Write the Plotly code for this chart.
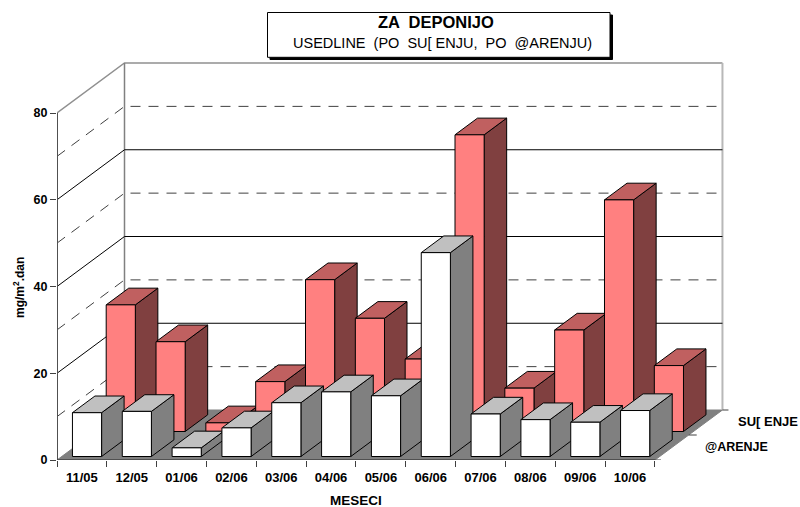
import plotly.graph_objects as go

months = ["11/05","12/05","01/06","02/06","03/06","04/06","05/06","06/06","07/06","08/06","09/06","10/06"]
suncanje = [29.2,20.7,2.0,11.5,35.0,26.1,16.7,68.4,10.0,23.4,53.4,15.2]
zarenje = [10.1,10.4,2.0,6.6,12.4,14.9,14.0,47.0,9.8,8.5,7.9,10.6]
y_ticks = [0,20,40,60,80]
series_labels = ["SU[ ENJE","@ARENJE"]

# pixel geometry of the plot frame
W,H = 800,507
L,B0 = 57,460
CW = 49.83       # px per category
PY = 4.3375      # px per unit
DX,DY = 33.75,25 # px per depth row
R = 755
T = 61
XMAX = (R-L)/CW
YMAX = (B0-T)/PY
dx = DX/CW; dy = DY/PY

def pr(c,v,z):
    return c+z*dx, v+z*dy

def poly(pts):
    xs,ys=[],[]
    for c,v,z in pts:
        a,b=pr(c,v,z); xs.append(a); ys.append(b)
    xs.append(xs[0]); ys.append(ys[0])
    return xs,ys

def add_faces(fig,vals,z0,colors,m=0.215,w=0.585,d=0.667):
    fx,fy,tx,ty,sx,sy=[],[],[],[],[],[]
    for i,v in enumerate(vals):
        c0=i+m; c1=c0+w; z1=z0+d
        a,b=poly([(c0,0,z0),(c1,0,z0),(c1,v,z0),(c0,v,z0)]); fx+=a+[None]; fy+=b+[None]
        a,b=poly([(c0,v,z0),(c1,v,z0),(c1,v,z1),(c0,v,z1)]); tx+=a+[None]; ty+=b+[None]
        a,b=poly([(c1,0,z0),(c1,0,z1),(c1,v,z1),(c1,v,z0)]); sx+=a+[None]; sy+=b+[None]
    for xs,ys,col in [(sx,sy,colors[2]),(tx,ty,colors[1]),(fx,fy,colors[0])]:
        fig.add_trace(go.Scatter(x=xs,y=ys,mode="lines",fill="toself",fillcolor=col,
                                 line=dict(color="#000000",width=1),showlegend=False,hoverinfo="skip"))

def line(fig,pts,color,width=1,dash=None):
    xs,ys=[],[]
    for c,v,z in pts:
        a,b=pr(c,v,z); xs.append(a); ys.append(b)
    fig.add_trace(go.Scatter(x=xs,y=ys,mode="lines",line=dict(color=color,width=width,dash=dash),
                             showlegend=False,hoverinfo="skip",cliponaxis=False))

fig=go.Figure()
N=len(months)
# floor
a,b=poly([(0,0,0),(N,0,0),(N,0,2),(0,0,2)])
fig.add_trace(go.Scatter(x=a,y=b,mode="lines",fill="toself",fillcolor="#808080",
                         line=dict(color="#808080",width=1),showlegend=False,hoverinfo="skip"))
# walls outline
line(fig,[(0,80,0),(0,80,2),(N,80,2)],"#909090",1.5)
line(fig,[(0,0,2),(0,80,2)],"#808080",1.5)
line(fig,[(N,0,2),(N,80,2)],"#b8b8b8",2)
# grid
for v in [10,20,30,40,50,60,70]:
    solid = v%20==0
    dash = None if solid else "10px,8px"
    col = "#000000" if solid else "#404040"
    line(fig,[(0,v,0),(0,v,2),(N,v,2)],col,1,dash)
# bars
add_faces(fig,suncanje,1.14,("#FF8080","#C06060","#804040"))
add_faces(fig,zarenje,0.14,("#FFFFFF","#C0C0C0","#808080"))
# axes
line(fig,[(0,0,0),(0,80,0)],"#505050",2)
line(fig,[(0,0,0),(N,0,0)],"#404040",1.5)
for z,ln in [(0,6),(1,8),(2,6)]:
    a,b=pr(N,0,z)
    fig.add_trace(go.Scatter(x=[a,a+ln/CW],y=[b,b],mode="lines",line=dict(color="#404040",width=1),
                             showlegend=False,hoverinfo="skip",cliponaxis=False))

def px(x): return (x-L)/(R-L)
def py(y): return (B0-y)/(B0-T)

def box(x0,y0,x1,y1,fill,lc):
    return dict(type="rect",xref="paper",yref="paper",x0=px(x0),x1=px(x1),y0=py(y1),y1=py(y0),
                fillcolor=fill,line=dict(color=lc,width=1),layer="above")
FF="Liberation Sans"
def note(x,y,t,size,bold=False,angle=0,anchor="center"):
    return dict(xref="paper",yref="paper",x=px(x),y=py(y),text=("<b>%s</b>"%t if bold else t),showarrow=False,
                xanchor=anchor,yanchor="middle",textangle=angle,font=dict(family=FF,size=size,color="#000000"))

fig.update_layout(
    width=W,height=H,paper_bgcolor="white",plot_bgcolor="white",
    margin=dict(l=L,r=W-R,t=T,b=H-B0,pad=0),showlegend=False,
    xaxis=dict(range=[0,XMAX],tickmode="array",tickvals=[i+0.5 for i in range(N)],ticktext=months,
               ticks="",showgrid=False,zeroline=False,showline=False,ticklabelstandoff=8,
               tickfont=dict(family=FF,size=13,color="#000000",weight="bold"),
               minor=dict(tickmode="array",tickvals=list(range(N+1)),ticks="outside",ticklen=6,tickcolor="#404040",tickwidth=1,showgrid=False)),
    yaxis=dict(range=[0,YMAX],tickmode="array",tickvals=y_ticks,ticks="outside",ticklen=6,tickcolor="#404040",
               showgrid=False,zeroline=False,showline=False,
               tickfont=dict(family=FF,size=12.5,color="#000000",weight="bold")),
    shapes=[box(270,15,612.5,59.5,"#000000","#000000"),box(267.5,12.5,610,57.3,"#FFFFFF","#000000")],
    annotations=[
        note(436,22,"ZA  DEPONIJO",16.5,True),
        note(442,43,"USEDLINE  (PO  SU[ ENJU,  PO  @ARENJU)",14.5),
        note(356,500,"MESECI",13.5,True),
        note(19,288,"mg/m<sup>2</sup>.dan",12,True,-90),
        note(768,421,series_labels[0],13,True),
        note(736,447,series_labels[1],12.5,True),
    ],
)
fig.write_html("out.html",config={"displayModeBar":False},post_script="document.body.style.margin='0';document.body.style.overflow='hidden';")
